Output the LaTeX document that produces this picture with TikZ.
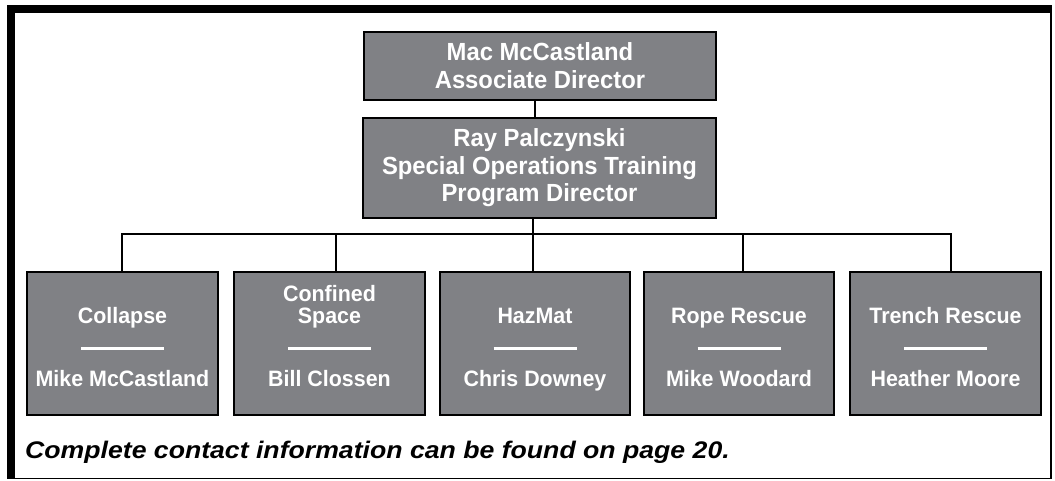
\documentclass[tikz,border=0pt]{standalone}
\usepackage{fontspec}
\newfontfamily\boxfont[FakeStretch=0.96]{Liberation Sans}
\newfontfamily\footfont[FakeStretch=1.11]{Liberation Sans}
\usetikzlibrary{calc}
\definecolor{boxgray}{RGB}{128,129,133}
\begin{document}
\begin{tikzpicture}[x=1pt,y=-1pt,
  box/.style={draw=black, line width=2pt, fill=boxgray, inner sep=0pt},
  toptext/.style={text=white, align=center, font=\boxfont\bfseries\fontsize{24.8}{28}\selectfont},
  title/.style={text=white, align=center, inner sep=0pt, anchor=base, font=\boxfont\bfseries\fontsize{22.3}{22}\selectfont},
  dashrule/.style={draw=white, line width=3pt},
  conn/.style={draw=black, line width=2pt},
  footstyle/.style={inner sep=0pt, anchor=base west, font=\footfont\bfseries\itshape\fontsize{24}{24}\selectfont}
]
\useasboundingbox (0,0) rectangle (1055,480);
% frame
\fill[black] (7,5) rectangle (1052,13);
\fill[black] (7,5) rectangle (14.5,479);
\draw[line width=1.5pt] (1051,5) -- (1051,478.5) -- (7,478.5);

% top boxes
\node[box, toptext, minimum width=352, minimum height=68] (mac) at (540,66) {Mac McCastland\\Associate Director};
\node[box, toptext, minimum width=353, minimum height=100, font=\boxfont\bfseries\fontsize{24.8}{27.5}\selectfont] (ray) at (539.5,168) {Ray Palczynski\\Special Operations Training\\Program Director};

% bottom boxes
\node[box, minimum width=191, minimum height=143] (b1) at (122.5,343.5) {};
\node[box, minimum width=191, minimum height=143] (b2) at (329.5,343.5) {};
\node[box, minimum width=190, minimum height=143] (b3) at (535,343.5) {};
\node[box, minimum width=190, minimum height=143] (b4) at (739,343.5) {};
\node[box, minimum width=191, minimum height=143] (b5) at (945.5,343.5) {};

\foreach \b/\t/\n in {b1/Collapse/Mike McCastland, b2/{Confined\\Space}/Bill Clossen, b3/HazMat/Chris Downey, b4/Rope Rescue/Mike Woodard, b5/Trench Rescue/Heather Moore}{
  \node[title] (\b t) at ($(\b.north)+(0,52)$) {\t};
  \draw[dashrule] ($(\b.north)+(-41.5,77)$) -- ($(\b.north)+(41.5,77)$);
  \node[title] (\b n) at ($(\b.north)+(0,115)$) {\n};
}

% connectors
\coordinate (cm) at (535,100);
\draw[conn] (mac.south -| cm) -- (ray.north -| cm);
\coordinate (c1) at (121.7,234);
\coordinate (c2) at (336,234);
\coordinate (c3) at (533,234);
\coordinate (c4) at (743,234);
\coordinate (c5) at (951,234);
\draw[conn] (ray.south -| c3) -- (c3);
\draw[conn] (b1.north -| c1) -- (c1) -- (c5) -- (b5.north -| c5);
\draw[conn] (c2) -- (b2.north -| c2);
\draw[conn] (c3) -- (b3.north -| c3);
\draw[conn] (c4) -- (b4.north -| c4);

% footer
\node[footstyle] (foot) at (25,458) {Complete contact information can be found on page 20.};
\end{tikzpicture}
\end{document}
